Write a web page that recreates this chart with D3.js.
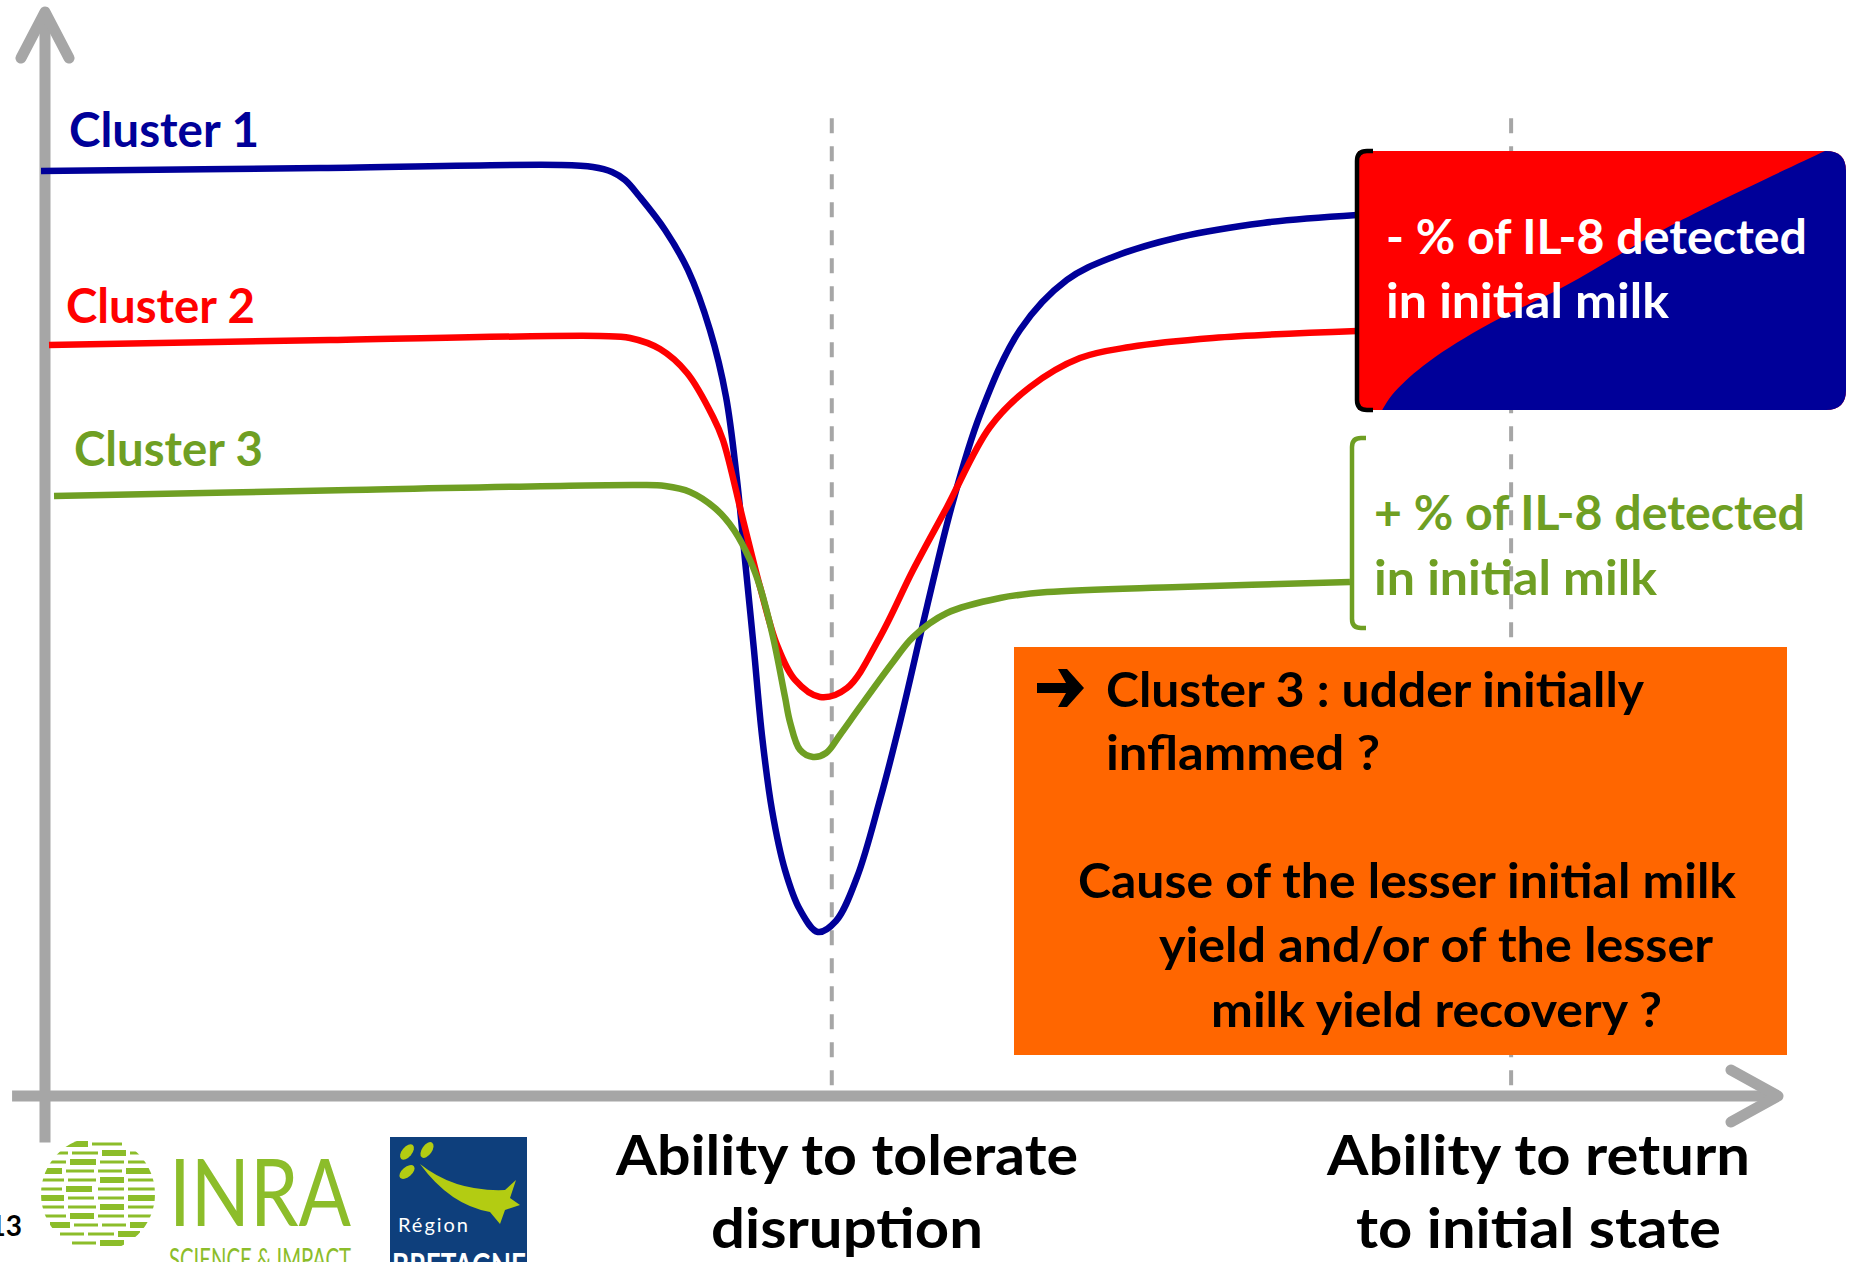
<!DOCTYPE html>
<html>
<head>
<meta charset="utf-8">
<script src="https://cdn.jsdelivr.net/npm/d3@7"></script>
<style>
  body { margin: 0; background: #fff; }
  svg { display: block; }
  text { font-family: Lato, "Open Sans", sans-serif; font-weight: 700; }
</style>
</head>
<body>
<div class="chart"></div>
<script>
var svgWidth = 1852;
var svgHeight = 1262;

// curves: [time, milk yield] in arbitrary 0-100 units
var clusterNames = ["Cluster 1", "Cluster 2", "Cluster 3"];
var clusterColors = ["#000099", "#ff0000", "#6f9f23"];

var cluster1 = [[-0.23, 85.33], [15.87, 85.61], [29.72, 85.89], [31.62, 85.70], [32.72, 85.24],
  [33.47, 84.50], [34.33, 82.93], [35.78, 79.89], [37.10, 76.20], [38.37, 70.66], [39.30, 64.48],
  [39.93, 56.83], [40.45, 48.52], [40.91, 41.14], [41.37, 33.30], [41.95, 26.38], [42.70, 20.85],
  [43.57, 17.16], [44.60, 15.13], [45.64, 16.14], [46.86, 20.20], [48.18, 27.31], [49.34, 34.50],
  [50.89, 45.11], [52.34, 54.52], [53.95, 62.82], [56.26, 70.66], [58.97, 75.28], [61.63, 77.40],
  [65.49, 79.24], [70.28, 80.54], [75.71, 81.27]];

var cluster2 = [[0.23, 69.28], [16.45, 69.74], [32.03, 70.11], [33.76, 69.93], [35.49, 68.91],
  [37.05, 66.70], [38.55, 62.64], [39.12, 60.52], [40.28, 53.14], [41.26, 46.96], [42.24, 41.61],
  [43.28, 38.38], [44.72, 36.81], [46.28, 37.64], [48.18, 42.34], [50.09, 48.52], [52.05, 54.34],
  [54.53, 61.72], [56.84, 65.41], [59.72, 68.08], [62.61, 69.10], [67.40, 69.93], [75.71, 70.57]];

var cluster3 = [[0.52, 55.35], [17.60, 55.90], [34.33, 56.37], [35.78, 56.27], [37.22, 55.72],
  [38.72, 54.15], [39.76, 52.21], [40.68, 49.45], [41.26, 46.96], [42.01, 42.34], [42.70, 36.81],
  [42.99, 34.50], [43.57, 31.92], [44.32, 31.27], [45.07, 31.64], [45.87, 33.30], [47.03, 35.89],
  [48.93, 40.04], [50.09, 42.34], [52.05, 44.56], [55.11, 45.94], [57.82, 46.49], [65.49, 46.96],
  [75.30, 47.42]];

// the two phases marked by dashed lines
var phaseMarks = [45.4, 84.6];
var phaseLabels = [["Ability to tolerate", "disruption"], ["Ability to return", "to initial state"]];

var noteMinus = ["- % of IL-8 detected", "in initial milk"];
var notePlus = ["+ % of IL-8 detected", "in initial milk"];
var noteOrange = ["Cluster 3 : udder initially", "inflammed ?", "Cause of the lesser initial milk",
  "yield and/or of the lesser", "milk yield recovery ?"];

var svg = d3.select(".chart")
  .append("svg")
  .attr("width", svgWidth)
  .attr("height", svgHeight);

var xScale = d3.scaleLinear().domain([0, 100]).range([45, 1778]);
var yScale = d3.scaleLinear().domain([0, 100]).range([1096, 12]);

var grey = "#a6a6a6";

// helper: text squeezed to a measured width (Calibri-like look)
function addText(g, str, x, y, size, width, color) {
  var t = g.append("text")
    .attr("x", x)
    .attr("y", y)
    .attr("font-size", size)
    .attr("fill", color)
    .text(str);
  if (width) t.attr("textLength", width).attr("lengthAdjust", "spacingAndGlyphs");
  return t;
}

// dashed phase lines
svg.selectAll("line.phase")
  .data(phaseMarks)
  .enter()
  .append("line")
  .classed("phase", true)
  .attr("x1", d => xScale(d))
  .attr("x2", d => xScale(d))
  .attr("y1", yScale(90.2))
  .attr("y2", yScale(0.5))
  .attr("stroke", grey)
  .attr("stroke-width", 4)
  .attr("stroke-dasharray", "15,13");

// axes (plain arrows)
var axisG = svg.append("g")
  .attr("stroke", grey)
  .attr("stroke-width", 11)
  .attr("fill", "none");

axisG.append("line")
  .attr("x1", xScale(0)).attr("x2", xScale(0))
  .attr("y1", yScale(-4.3)).attr("y2", yScale(99));
axisG.append("path")
  .attr("stroke-linecap", "round")
  .attr("stroke-linejoin", "round")
  .attr("d", `M${xScale(0) - 24},${yScale(100) + 46} L${xScale(0)},${yScale(100)} L${xScale(0) + 24},${yScale(100) + 46}`);

axisG.append("line")
  .attr("x1", xScale(-1.9)).attr("x2", xScale(99.5))
  .attr("y1", yScale(0)).attr("y2", yScale(0));
axisG.append("path")
  .attr("stroke-linecap", "round")
  .attr("stroke-linejoin", "round")
  .attr("d", `M${xScale(100) - 47},${yScale(0) - 26} L${xScale(100)},${yScale(0)} L${xScale(100) - 47},${yScale(0) + 26}`);

// cluster curves
var line = d3.line()
  .x(d => xScale(d[0]))
  .y(d => yScale(d[1]))
  .curve(d3.curveCatmullRom.alpha(0.5));

svg.selectAll("path.cluster")
  .data([cluster1, cluster2, cluster3])
  .enter()
  .append("path")
  .classed("cluster", true)
  .attr("d", line)
  .attr("fill", "none")
  .attr("stroke", (d, i) => clusterColors[i])
  .attr("stroke-width", 6.5);

// cluster labels
var labelPos = [[69, 147, 190], [66, 323, 189], [74, 466, 189]];
clusterNames.forEach(function(name, i) {
  addText(svg, name, labelPos[i][0], labelPos[i][1], 47, labelPos[i][2], clusterColors[i]);
});

// red/blue note box
var defs = svg.append("defs");
defs.append("clipPath")
  .attr("id", "boxClip")
  .append("path")
  .attr("d", "M1358,151 H1826 Q1846,151 1846,171 V390 Q1846,410 1826,410 H1358 Z");

var boxG = svg.append("g").attr("clip-path", "url(#boxClip)");
boxG.append("rect")
  .attr("x", 1350).attr("y", 145).attr("width", 510).attr("height", 275)
  .attr("fill", "#ff0000");
var split = [[1840, 144], [1672, 225], [1565, 286], [1480, 329], [1423, 366], [1392, 395], [1380, 414]];
var splitPath = d3.line().curve(d3.curveCatmullRom)(split);
boxG.append("path")
  .attr("d", splitPath + " L1860,414 L1860,144 Z")
  .attr("fill", "#000099");

svg.append("path")
  .attr("d", "M1373,151 H1367 Q1357,151 1357,161 V400 Q1357,410 1367,410 H1373")
  .attr("fill", "none")
  .attr("stroke", "#000")
  .attr("stroke-width", 4.5);

addText(svg, noteMinus[0], 1386, 254, 47, 421, "#fff");
addText(svg, noteMinus[1], 1386, 318, 47, 283, "#fff");

// green bracket note
svg.append("path")
  .attr("d", "M1366,438 H1361 Q1352,438 1352,447 V619 Q1352,628 1361,628 H1366")
  .attr("fill", "none")
  .attr("stroke", clusterColors[2])
  .attr("stroke-width", 4.5);

addText(svg, notePlus[0], 1374, 530, 47, 431, clusterColors[2]);
addText(svg, notePlus[1], 1374, 595, 47, 283, clusterColors[2]);

// orange conclusion box
svg.append("rect")
  .attr("x", 1014).attr("y", 647).attr("width", 773).attr("height", 408)
  .attr("fill", "#ff6600");

svg.append("path")
  .attr("d", "M1037,683 H1066 L1058,669 H1067 L1084,688 L1067,707 H1058 L1066,693 H1037 Z")
  .attr("fill", "#000");

var orangePos = [[1106, 707, 538], [1106, 770, 274], [1078, 898, 658], [1159, 962, 554], [1211, 1027, 451]];
noteOrange.forEach(function(s, i) {
  addText(svg, s, orangePos[i][0], orangePos[i][1], 47, orangePos[i][2], "#000");
});

// phase labels under the x axis
var phasePos = [[[616, 1175, 462], [711, 1248, 272]], [[1327, 1175, 423], [1356, 1248, 365]]];
phaseLabels.forEach(function(lines, i) {
  lines.forEach(function(s, j) {
    addText(svg, s, phasePos[i][j][0], phasePos[i][j][1], 56, phasePos[i][j][2], "#000");
  });
});

// page number (cut at the edge)
svg.append("text")
  .attr("x", 22).attr("y", 1236)
  .attr("text-anchor", "end")
  .attr("font-size", 28)
  .attr("fill", "#000")
  .text("13");

// INRA logo
var inraGreen = "#8cbd2a";
defs.append("clipPath")
  .attr("id", "inraClip")
  .append("circle")
  .attr("cx", 98).attr("cy", 1194).attr("r", 57);

var inraG = svg.append("g").attr("clip-path", "url(#inraClip)").attr("fill", inraGreen);
var stripeRows = [
  [[62, 88], [92, 122]],
  [[48, 68], [72, 98], [102, 126], [130, 150]],
  [[42, 66], [70, 96], [100, 124], [128, 156]],
  [[40, 62], [66, 94], [98, 122], [126, 156]],
  [[40, 64], [68, 96], [100, 124], [128, 156]],
  [[40, 62], [66, 92], [98, 124], [128, 156]],
  [[40, 64], [68, 94], [98, 124], [128, 156]],
  [[42, 64], [68, 96], [100, 124], [128, 156]],
  [[44, 66], [70, 94], [98, 124], [128, 154]],
  [[50, 70], [74, 98], [102, 126], [130, 150]],
  [[60, 84], [88, 114], [118, 140]],
  [[72, 96], [100, 124]]
];
stripeRows.forEach(function(row, i) {
  row.forEach(function(seg, j) {
    var thick = (i + j) % 3 === 0 ? 6 : 3;
    inraG.append("rect")
      .attr("x", seg[0]).attr("y", 1141 + i * 9 + (6 - thick) / 2)
      .attr("width", seg[1] - seg[0]).attr("height", thick);
  });
});

svg.append("text")
  .attr("x", 169).attr("y", 1226)
  .attr("font-size", 94)
  .style("font-weight", 400)
  .attr("fill", inraGreen)
  .attr("textLength", 182).attr("lengthAdjust", "spacingAndGlyphs")
  .text("INRA");
svg.append("text")
  .attr("x", 169).attr("y", 1270)
  .attr("font-size", 30)
  .style("font-weight", 400)
  .attr("fill", inraGreen)
  .attr("textLength", 182).attr("lengthAdjust", "spacingAndGlyphs")
  .text("SCIENCE & IMPACT");

// Region Bretagne logo
svg.append("rect")
  .attr("x", 390).attr("y", 1137).attr("width", 137).attr("height", 130)
  .attr("fill", "#0e3f7c");
var leaf = "#b3cc12";
svg.append("ellipse").attr("cx", 407).attr("cy", 1152).attr("rx", 5).attr("ry", 9)
  .attr("transform", "rotate(40,407,1152)").attr("fill", leaf);
svg.append("ellipse").attr("cx", 427).attr("cy", 1150).attr("rx", 5).attr("ry", 9)
  .attr("transform", "rotate(35,427,1150)").attr("fill", leaf);
svg.append("ellipse").attr("cx", 407).attr("cy", 1172).attr("rx", 5).attr("ry", 9)
  .attr("transform", "rotate(50,407,1172)").attr("fill", leaf);
svg.append("path")
  .attr("d", "M420,1164 Q455,1192 505,1190 L516,1180 L510,1198 L520,1205 L505,1210 L500,1224 L490,1212 Q450,1205 420,1164 Z")
  .attr("fill", leaf);
svg.append("text")
  .attr("x", 398).attr("y", 1232)
  .attr("font-size", 20)
  .style("font-weight", 400)
  .attr("fill", "#fff")
  .attr("textLength", 70).attr("lengthAdjust", "spacing")
  .text("Région");
svg.append("text")
  .attr("x", 392).attr("y", 1278)
  .attr("font-size", 34)
  .attr("fill", "#fff")
  .attr("textLength", 134).attr("lengthAdjust", "spacingAndGlyphs")
  .text("BRETAGNE");
</script>
</body>
</html>
